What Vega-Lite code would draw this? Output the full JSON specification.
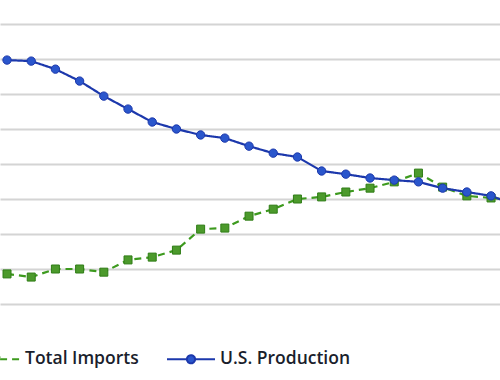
{
  "$schema": "https://vega.github.io/schema/vega-lite/v6.json",
  "width": 500,
  "height": 380,
  "padding": 0,
  "autosize": {"type": "none"},
  "background": "white",
  "config": {"view": {"stroke": null}},
  "data": {
    "values": [
      {"year": 1985, "series": "Total Imports", "value": 0.86},
      {"year": 1986, "series": "Total Imports", "value": 0.77},
      {"year": 1987, "series": "Total Imports", "value": 1.0},
      {"year": 1988, "series": "Total Imports", "value": 1.0},
      {"year": 1989, "series": "Total Imports", "value": 0.91},
      {"year": 1990, "series": "Total Imports", "value": 1.26},
      {"year": 1991, "series": "Total Imports", "value": 1.34},
      {"year": 1992, "series": "Total Imports", "value": 1.54},
      {"year": 1993, "series": "Total Imports", "value": 2.14},
      {"year": 1994, "series": "Total Imports", "value": 2.17},
      {"year": 1995, "series": "Total Imports", "value": 2.51},
      {"year": 1996, "series": "Total Imports", "value": 2.71},
      {"year": 1997, "series": "Total Imports", "value": 3.0},
      {"year": 1998, "series": "Total Imports", "value": 3.06},
      {"year": 1999, "series": "Total Imports", "value": 3.2},
      {"year": 2000, "series": "Total Imports", "value": 3.31},
      {"year": 2001, "series": "Total Imports", "value": 3.49},
      {"year": 2002, "series": "Total Imports", "value": 3.74},
      {"year": 2003, "series": "Total Imports", "value": 3.34},
      {"year": 2004, "series": "Total Imports", "value": 3.09},
      {"year": 2005, "series": "Total Imports", "value": 3.03},
      {"year": 2006, "series": "Total Imports", "value": 2.97},
      {"year": 1985, "series": "U.S. Production", "value": 6.97},
      {"year": 1986, "series": "U.S. Production", "value": 6.94},
      {"year": 1987, "series": "U.S. Production", "value": 6.71},
      {"year": 1988, "series": "U.S. Production", "value": 6.37},
      {"year": 1989, "series": "U.S. Production", "value": 5.94},
      {"year": 1990, "series": "U.S. Production", "value": 5.57},
      {"year": 1991, "series": "U.S. Production", "value": 5.2},
      {"year": 1992, "series": "U.S. Production", "value": 5.0},
      {"year": 1993, "series": "U.S. Production", "value": 4.83},
      {"year": 1994, "series": "U.S. Production", "value": 4.74},
      {"year": 1995, "series": "U.S. Production", "value": 4.51},
      {"year": 1996, "series": "U.S. Production", "value": 4.31},
      {"year": 1997, "series": "U.S. Production", "value": 4.2},
      {"year": 1998, "series": "U.S. Production", "value": 3.8},
      {"year": 1999, "series": "U.S. Production", "value": 3.71},
      {"year": 2000, "series": "U.S. Production", "value": 3.6},
      {"year": 2001, "series": "U.S. Production", "value": 3.54},
      {"year": 2002, "series": "U.S. Production", "value": 3.49},
      {"year": 2003, "series": "U.S. Production", "value": 3.31},
      {"year": 2004, "series": "U.S. Production", "value": 3.2},
      {"year": 2005, "series": "U.S. Production", "value": 3.09},
      {"year": 2006, "series": "U.S. Production", "value": 2.83}
    ]
  },
  "encoding": {
    "x": {"field": "year", "type": "quantitative", "axis": null,
      "scale": {"domain": [1984.71, 2005.37], "nice": false, "zero": false}},
    "y": {"field": "value", "type": "quantitative",
      "scale": {"domain": [-2.171, 8.686], "nice": false, "zero": false},
      "axis": {"values": [0, 1, 2, 3, 4, 5, 6, 7, 8], "grid": true, "gridColor": "#d4d4d4", "gridWidth": 2,
        "labels": false, "ticks": false, "domain": false, "title": null}}
  },
  "layer": [
    {
      "mark": {"type": "line", "strokeWidth": 2.2, "clip": true},
      "encoding": {
        "color": {"field": "series", "type": "nominal",
          "scale": {"domain": ["Total Imports", "U.S. Production"], "range": ["#3d9a1e", "#1c38ac"]},
          "legend": {
            "orient": "none", "legendX": -29, "legendY": 334, "direction": "horizontal",
            "title": null, "padding": 0, "columnPadding": 24,
            "labelFont": "Open Sans", "labelFontSize": 17.5, "labelFontWeight": 600, "labelColor": "#1a1e2c",
            "labelOffset": 4, "symbolSize": 2304, "symbolStrokeWidth": 2, "symbolType": "stroke",
            "encode": {
              "symbols": {
                "update": {
                  "shape": {"value": "M-1,0H-0.17C-0.17,-0.0939 -0.0939,-0.17 0,-0.17C0.0939,-0.17 0.17,-0.0939 0.17,0C0.17,0.0939 0.0939,0.17 0,0.17C-0.0939,0.17 -0.17,0.0939 -0.17,0ZM0.17,0H1"},
                  "fill": {"value": "#2a56cc"},
                  "opacity": {"value": 1}
                }
              }
            }
          }
        },
        "strokeDash": {"field": "series", "type": "nominal",
          "scale": {"domain": ["Total Imports", "U.S. Production"], "range": [[7, 5], [1, 0]]}, "legend": null}
      }
    },
    {
      "transform": [{"filter": "datum.series === 'Total Imports'"}],
      "mark": {"type": "square", "size": 64, "fill": "#4c9a2c", "stroke": "#2f7d16", "strokeWidth": 1, "opacity": 1, "clip": true}
    },
    {
      "transform": [{"filter": "datum.series === 'U.S. Production'"}],
      "mark": {"type": "circle", "size": 70, "fill": "#2a56cc", "stroke": "#1c38ac", "strokeWidth": 1, "opacity": 1, "clip": true}
    }
  ]
}
